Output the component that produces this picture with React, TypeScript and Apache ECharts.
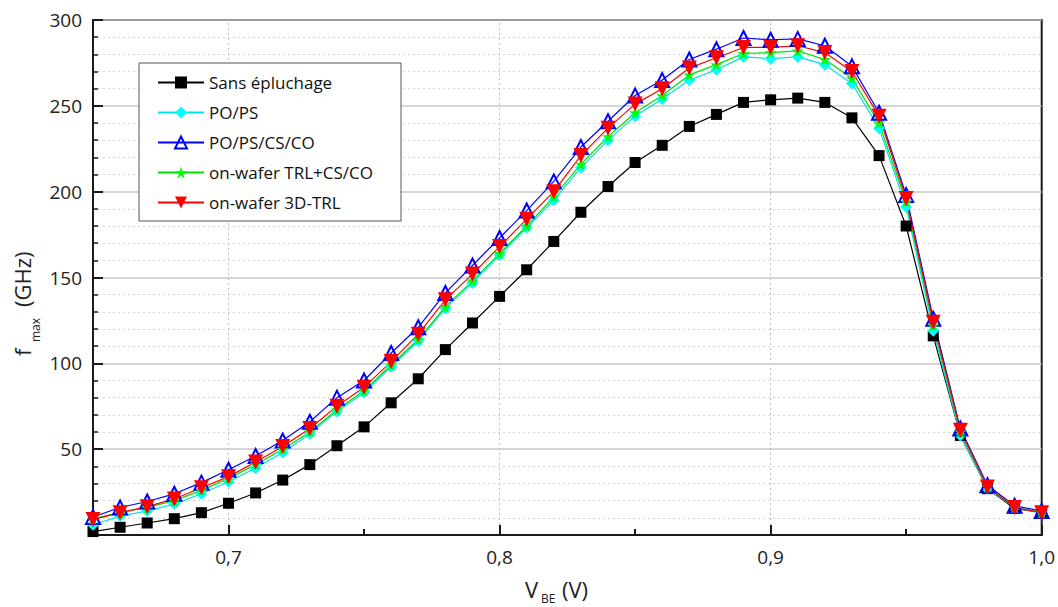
import React, { useEffect, useRef } from "react";
import * as echarts from "echarts";

const vbe = [0.65, 0.66, 0.67, 0.68, 0.69, 0.70, 0.71, 0.72, 0.73, 0.74, 0.75, 0.76, 0.77, 0.78, 0.79, 0.80, 0.81, 0.82, 0.83, 0.84, 0.85, 0.86, 0.87, 0.88, 0.89, 0.90, 0.91, 0.92, 0.93, 0.94, 0.95, 0.96, 0.97, 0.98, 0.99, 1.00];

const sansEpluchage = [2, 4.5, 7, 9.5, 13, 18.5, 24.5, 32, 41, 52, 63, 77, 91, 108, 123.5, 139, 154.5, 171, 188, 203, 217, 227, 238, 245, 252, 253.5, 254.5, 252, 243, 221, 180, 116, 58, 27, 15.5, 13];
const poPs = [6, 11, 14, 18, 24, 31, 39, 48, 59, 72, 83, 98, 113, 132, 147, 163, 179, 195, 214, 230, 244, 254, 265, 271, 278.5, 277.5, 278.5, 274, 263, 237, 191, 119, 58, 27, 16, 13];
const poPsCsCo = [10.5, 16, 19.5, 24, 30.5, 38, 46, 55, 66, 80, 90, 106, 121, 141, 157, 173, 189, 206, 226, 241, 256, 265, 277, 283, 289.5, 288.5, 289, 285, 273, 246, 198, 126, 62, 29, 17, 14];
const trlCsCo = [9.5, 13, 16, 20, 26, 33, 41, 50, 60, 73, 84, 99, 114, 133, 148, 164, 180, 197, 216, 232, 246, 256, 268, 274, 280.5, 281, 282, 277, 266, 240, 194, 122, 60, 28, 16, 13];
const trl3d = [9, 13, 16.5, 21, 27.5, 34, 42.5, 51.5, 62, 75, 86, 101, 117, 137, 152, 168, 184, 200, 221, 237, 251, 260, 272, 278, 284, 284, 285, 281, 270, 244, 196, 124, 61, 28, 16, 13];

const seriesNames = ["Sans épluchage", "PO/PS", "PO/PS/CS/CO", "on-wafer TRL+CS/CO", "on-wafer 3D-TRL"];
const xMajorTicks = [0.7, 0.8, 0.9, 1.0];
const xMinorTicks = [0.75, 0.85, 0.95];
const xGridLines = [0.7, 0.8, 0.9];

const FONT = "'Open Sans', 'Noto Sans', sans-serif";
const STAR = "path://M50,0 L61,35 L98,35 L68,57 L79,91 L50,70 L21,91 L32,57 L2,35 L39,35 Z";

const GRID = { left: 93, top: 20, right: 15, bottom: 72 };
const PLOT_H = 607 - GRID.top - GRID.bottom;

function pairs(ys: number[]) {
  return vbe.map((x, i) => [x, ys[i]]);
}

export default function App() {
  const ref = useRef<HTMLDivElement>(null);
  useEffect(() => {
    if (!ref.current) return;
    const chart = echarts.init(ref.current, null, { renderer: "svg" });
    const fmtX = (v: number) => v.toFixed(1).replace(".", ",");
    const option: any = {
      animation: false,
      backgroundColor: "#fff",
      textStyle: { fontFamily: FONT },
      grid: { ...GRID, show: true, borderColor: "#1a1a1a", borderWidth: 2, backgroundColor: "transparent" },
      legend: {
        left: 139,
        top: 63,
        orient: "vertical",
        itemWidth: 46,
        itemHeight: 15,
        itemGap: 13,
        padding: [11, 28, 10, 18],
        borderColor: "#555",
        borderWidth: 1,
        backgroundColor: "#fff",
        textStyle: { fontSize: 17, color: "#111", fontFamily: FONT },
        data: seriesNames,
        z: 10,
      },
      xAxis: [
        {
          type: "value",
          min: 0.65,
          max: 1.0,
          axisLine: { show: true, lineStyle: { color: "#1a1a1a", width: 2 } },
          axisTick: { show: true, inside: true, length: 10, customValues: xMajorTicks, lineStyle: { color: "#1a1a1a", width: 2 } },
          axisLabel: { customValues: xMajorTicks, formatter: fmtX, fontSize: 19, color: "#222", margin: 12, fontFamily: FONT },
          splitLine: { show: false },
          z: 3,
        },
        {
          type: "value",
          min: 0.65,
          max: 1.0,
          position: "bottom",
          axisLine: { show: false },
          axisTick: { show: true, inside: true, length: 6, customValues: xMinorTicks, lineStyle: { color: "#1a1a1a", width: 2 } },
          axisLabel: { show: false },
          splitLine: { show: false },
          z: 3,
        },
        {
          type: "value",
          min: 0.65,
          max: 1.0,
          position: "bottom",
          axisLine: { show: false },
          axisTick: { show: true, inside: true, length: PLOT_H, customValues: xGridLines, lineStyle: { color: "#bdbdbd", width: 1, type: [2, 3] } },
          axisLabel: { show: false },
          splitLine: { show: false },
          z: 0,
        },
      ],
      yAxis: {
        type: "value",
        min: 0,
        max: 300,
        interval: 50,
        axisLine: { show: true, lineStyle: { color: "#1a1a1a", width: 2 } },
        axisTick: { show: true, inside: true, length: 10, lineStyle: { color: "#1a1a1a", width: 2 } },
        minorTick: { show: true, splitNumber: 5, length: 5, lineStyle: { color: "#1a1a1a", width: 1.5 } },
        axisLabel: { formatter: (v: number) => (v === 0 ? "" : String(v)), fontSize: 19, color: "#222", margin: 11, fontFamily: FONT },
        splitLine: { show: true, lineStyle: { color: "#c8c8c8", width: 1.5 } },
        minorSplitLine: { show: true, lineStyle: { color: "#d6d6d6", width: 1, type: [2, 3] } },
      },
      series: [
        {
          name: seriesNames[0],
          type: "line",
          data: pairs(sansEpluchage),
          symbol: "rect",
          symbolSize: 11,
          itemStyle: { color: "#000" },
          lineStyle: { color: "#000", width: 1.2 },
        },
        {
          name: seriesNames[1],
          type: "line",
          data: pairs(poPs),
          symbol: "diamond",
          symbolSize: 12,
          itemStyle: { color: "#00ffff" },
          lineStyle: { color: "#00e0f0", width: 1.2 },
        },
        {
          name: seriesNames[2],
          type: "line",
          data: pairs(poPsCsCo),
          symbol: "triangle",
          symbolSize: 14,
          itemStyle: { color: "rgba(255,255,255,0)", borderColor: "#0000ff", borderWidth: 2 },
          lineStyle: { color: "#0000ff", width: 1.2 },
        },
        {
          name: seriesNames[3],
          type: "line",
          data: pairs(trlCsCo),
          symbol: STAR,
          symbolSize: 12,
          itemStyle: { color: "#00ff00" },
          lineStyle: { color: "#00e000", width: 1.2 },
        },
        {
          name: seriesNames[4],
          type: "line",
          data: pairs(trl3d),
          symbol: "triangle",
          symbolRotate: 180,
          symbolSize: 15,
          itemStyle: { color: "#ff0000" },
          lineStyle: { color: "#ff0000", width: 1.2 },
        },
      ],
      graphic: [
        { type: "text", x: 22, y: 356, rotation: Math.PI / 2, style: { text: "f", fontSize: 22, fontFamily: FONT, fill: "#222", align: "left", verticalAlign: "middle" } },
        { type: "text", x: 35, y: 342, rotation: Math.PI / 2, style: { text: "max", fontSize: 12, fontFamily: FONT, fill: "#222", align: "left", verticalAlign: "middle" } },
        { type: "text", x: 22, y: 307, rotation: Math.PI / 2, style: { text: "(GHz)", fontSize: 22, fontFamily: FONT, fill: "#222", align: "left", verticalAlign: "middle" } },
        { type: "text", x: 525, y: 589, style: { text: "V", fontSize: 22, fontFamily: FONT, fill: "#222", align: "left", verticalAlign: "middle" } },
        { type: "text", x: 541, y: 598, style: { text: "BE", fontSize: 12, fontFamily: FONT, fill: "#222", align: "left", verticalAlign: "middle" } },
        { type: "text", x: 562, y: 589, style: { text: "(V)", fontSize: 22, fontFamily: FONT, fill: "#222", align: "left", verticalAlign: "middle" } },
      ],
    };
    chart.setOption(option);
    return () => chart.dispose();
  }, []);
  return <div ref={ref} style={{ position: "absolute", left: 0, top: 0, width: 1058, height: 607 }} />;
}
